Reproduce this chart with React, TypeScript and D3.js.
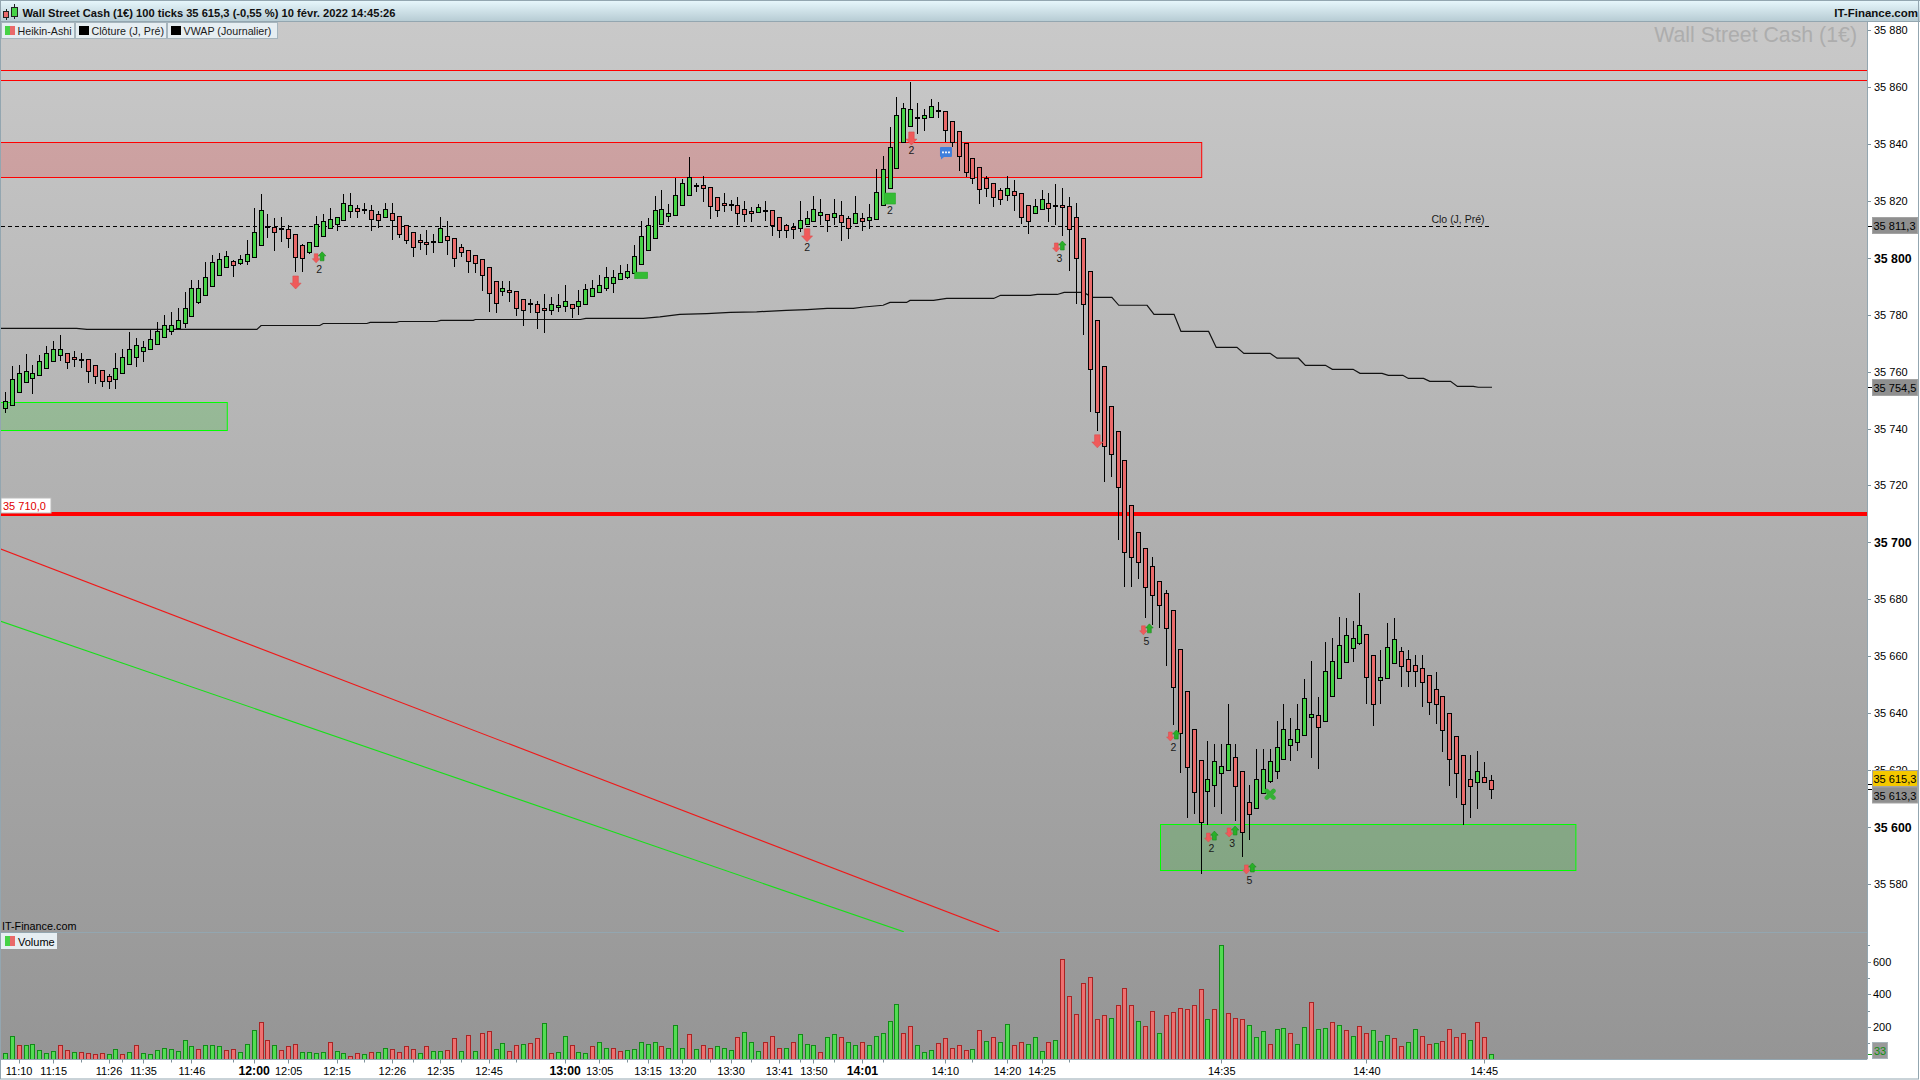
import { useEffect, useRef } from 'react'
import * as d3 from 'd3'

const W = 1920, H = 1080
const PLOT = { left: 1, right: 1867, top: 22, sep: 932, bottom: 1059.5 }
const FONT = '"Liberation Sans", Arial, sans-serif'

const opens = [
  35747.1,35748.1,35752.7,35756.2,35757.8,35758.7,35761.1,35763.6,35766,35766.7,
  35765,35764.6,35764.3,35762.2,35760.4,35758.3,35757.3,35759.4,35762.5,35765.3,
  35767.1,35767.8,35769.6,35772,35774.1,35775.2,35776.9,35779.4,35784.3,35786.8,
  35789.9,35794.1,35796.6,35798.7,35798,35798.7,35800.1,35804.3,35810.7,35810.7,
  35810,35810,35808.2,35804.3,35801.9,35804,35807.8,35810.3,35811.7,35813.1,
  35816.3,35817.3,35816.6,35816.6,35815.2,35814.2,35815.6,35814.5,35811.4,35808.9,
  35806.4,35805.7,35805.6,35805.4,35807.8,35807.1,35803.6,35802.6,35800.8,35799.4,
  35796.6,35792,35788.2,35788.5,35788.2,35785.4,35783.6,35783.6,35782.2,35781.8,
  35782.6,35782.9,35783.6,35782.9,35783.6,35786.4,35787.8,35789.2,35791,35792.4,
  35793.4,35794.5,35797.7,35802.6,35807.1,35811.7,35814.5,35814.9,35818.4,35822.2,
  35825.3,35825.4,35824.7,35821.5,35819.1,35818.6,35818.4,35817,35816.3,35815.9,
  35816.5,35816.6,35814.2,35811.4,35810.7,35810.3,35811.7,35812.8,35814.9,35815.2,
  35814.2,35814.9,35813.8,35812.1,35813.8,35813.1,35813.5,35818.4,35824.6,35831.6,
  35840.8,35846.4,35849.1,35849.2,35849.5,35851.4,35851.4,35848.2,35844.4,35840.2,
  35835.2,35831.7,35827.9,35826.1,35823.7,35822.2,35823.3,35822.6,35818.4,35815.6,
  35817,35819.1,35818,35818.4,35818,35814.2,35806.8,35795.2,35778,35761.8,
  35747.8,35739.3,35729.1,35713,35703.8,35698.2,35691.6,35686.3,35682.1,35676.1,
  35662.4,35647.7,35634.3,35623.4,35612.5,35614.7,35618.9,35619.9,35624.5,35619.6,
  35608.7,35606.6,35611.8,35616.1,35619.6,35623.8,35629,35629.8,35632.2,35638.5,
  35639.2,35637.1,35645.9,35652.2,35657.9,35662.8,35664.5,35667.7,35660.3,35651.5,
  35652.2,35657.5,35661.7,35658.9,35656.8,35655.8,35653.3,35648.4,35645.9,35640,
  35631.9,35625.2,35616.8,35615.7,35617.5,35616.4,
]
const closes = [
  35749.6,35757.3,35759.4,35760.1,35759.4,35763.6,35766.4,35768.1,35767.8,35763.2,
  35764.3,35763.9,35760.1,35758.4,35756.6,35756.6,35761.1,35765.3,35768.1,35769.2,
  35768.5,35771.3,35774.1,35776.2,35776.2,35778.3,35782.2,35789.2,35789.2,35793.4,
  35798.4,35799.4,35800.5,35797.3,35799.4,35801.2,35808.9,35816.6,35810.7,35808.9,
  35810,35806.8,35800.1,35799.8,35805.7,35811.7,35812.8,35813.5,35814.2,35819.4,
  35818.7,35816.3,35816.6,35813.5,35813.1,35817,35813.1,35808.5,35806.4,35803.6,
  35805.4,35805,35805.6,35810.3,35806.4,35799.8,35801.9,35798.7,35798,35794.1,
  35787.5,35784,35789.2,35787.8,35782.2,35781.8,35783.6,35780.8,35781.5,35783.6,
  35783.3,35784.7,35782.2,35784.7,35788.9,35789.2,35790.3,35793.1,35793.4,35794.8,
  35795.5,35800.5,35807.8,35811.4,35816.6,35817,35815.6,35821.9,35826.1,35828.2,
  35825.3,35824.4,35818,35816.6,35818.4,35818.6,35815.6,35815.2,35815.6,35817.7,
  35816.5,35811.6,35809.6,35809.6,35810,35813.1,35813.8,35817,35815.9,35813.1,
  35815.6,35812.4,35810.3,35815.6,35812.8,35814.2,35823,35831,35838.8,35850,
  35852.5,35852.1,35849.1,35850,35853.2,35851.4,35845,35840.8,35835.8,35830.2,
  35827.9,35824.2,35824.4,35821.2,35820.8,35824.4,35821.9,35814.2,35812.8,35818,
  35820.8,35817.3,35818.7,35817.7,35810,35799.8,35783.6,35760.8,35745.7,35733.7,
  35730.9,35719.3,35696.8,35694.7,35693,35684.5,35681.4,35677.9,35669.8,35649.1,
  35632.9,35621,35612.2,35601.7,35616.8,35623.1,35621.3,35629.1,35614.3,35598.1,
  35604.5,35616.8,35620.3,35623.1,35628,35634.3,35630.8,35634.3,35645.2,35639.6,
  35635,35655,35658.2,35663.8,35667.3,35666.3,35670.9,35652.6,35643.1,35652.6,
  35663.1,35665.9,35656.5,35654.7,35654.7,35650.8,35643.8,35643.1,35634,35623.8,
  35618.9,35608,35614.3,35619.6,35615.7,35613.3,
]
const highs = [
  35752.9,35761.9,35762.3,35766.2,35762.3,35765.9,35769,35770.7,35772.7,35766.7,
  35767.2,35766.4,35764.3,35762.2,35760.4,35759,35766.7,35767.8,35773.9,35771.7,
  35770.6,35774.6,35777.4,35779.9,35780.9,35782.2,35787.8,35792.2,35792.2,35798.5,
  35800.9,35801.5,35802.3,35799.2,35800.9,35806.1,35817.3,35822.4,35815.2,35813.8,
  35814.2,35811.4,35808.2,35805,35805.7,35814.6,35815.2,35817.3,35814.2,35822.4,
  35822.6,35818.7,35819.1,35818.6,35816.3,35819.1,35819.1,35814.5,35811.4,35808.9,
  35808.5,35809.7,35808.5,35814.2,35812.9,35807.1,35804.7,35802.6,35800.8,35799.4,
  35796.6,35792,35791.8,35791.8,35788.2,35785.4,35785.5,35784.7,35787.2,35786.1,
  35787.2,35790.4,35783.6,35788.6,35790.7,35792.2,35793.9,35796.6,35795.7,35797.4,
  35797.7,35804.4,35812.9,35813.9,35821.7,35823.8,35818.9,35828.1,35827.5,35835.4,
  35826.3,35828.7,35824.7,35821.5,35822.6,35820.3,35821.2,35819.9,35817.7,35818.9,
  35819.9,35816.6,35814.2,35811.8,35812.1,35819.9,35816.4,35821.7,35820.8,35815.2,
  35820.8,35819.9,35814.6,35821.7,35815.6,35818.9,35831,35835.7,35845.9,35856.4,
  35854.3,35861.7,35854.3,35852.2,35855.9,35854.7,35851.4,35848.2,35844.4,35840.2,
  35835.2,35831.7,35828.7,35826.1,35824.4,35828.7,35827.3,35822.6,35818.4,35820.8,
  35823.9,35822.6,35825.9,35824.5,35821.2,35819.1,35806.8,35795.2,35778,35761.8,
  35747.8,35739.3,35729.1,35713,35703.8,35698.2,35694.7,35686.3,35683.3,35676.1,
  35662.4,35647.7,35634.3,35623.4,35630.1,35629.2,35629.2,35643.2,35629.2,35619.6,
  35614.8,35627.4,35627.4,35627.4,35637.3,35643.2,35638.2,35643.2,35652,35658.3,
  35645.7,35665,35666.3,35673.8,35673.4,35672.4,35682.2,35667.7,35660.3,35662.2,
  35671.7,35673.4,35663.1,35662.2,35660.4,35660.4,35653.3,35654.4,35645.9,35640,
  35631.9,35625.2,35625.2,35626.6,35622.7,35618.2,
]
const lows = [
  35745.3,35748.1,35752.7,35756.2,35752.3,35758.7,35761.1,35763.6,35763.6,35761,
  35761.7,35761.1,35756.1,35755.7,35754.7,35754,35754,35759.4,35762.5,35761.7,
  35763.5,35767.8,35769.6,35772,35772.7,35775.2,35775.2,35779.4,35783.6,35786.8,
  35789.9,35794.1,35796.6,35793.1,35797.3,35797.3,35800.1,35804.3,35807.1,35802.5,
  35805.6,35803.3,35795.1,35795.1,35801.2,35804,35807.8,35810.3,35809.4,35813.1,
  35813.8,35813.8,35815.2,35809.3,35810.3,35814.2,35806.1,35806.8,35804.7,35800.1,
  35802.6,35800.8,35801.5,35805.4,35800.8,35796.6,35800.1,35794.8,35794.8,35788.3,
  35781,35780.7,35786.5,35784.4,35779.5,35776.1,35780.7,35774.9,35773.7,35779.9,
  35781,35781,35778.9,35779.9,35783.6,35786.4,35787.8,35788.3,35787.6,35792.4,
  35792.7,35794.5,35797.7,35802.6,35807.1,35811.7,35812.4,35814.9,35818.4,35822.2,
  35823.2,35819.7,35813.7,35814.3,35816.2,35816.5,35811.4,35812.6,35812.6,35815.9,
  35813,35807.6,35807,35807,35806.7,35809.1,35811.7,35812.8,35811.4,35809.1,
  35811.4,35806,35806.7,35812.1,35809.5,35810.2,35813.5,35818.4,35824.6,35831.6,
  35840.8,35845.8,35843.6,35844.5,35849.5,35849.1,35840.8,35838.8,35830.4,35828.2,
  35825.9,35818.9,35821.4,35817.7,35818.6,35820,35816.5,35811.7,35808.4,35815.6,
  35817,35812.5,35811.5,35807.8,35795.4,35783.6,35772.9,35745.7,35739.2,35721.1,
  35722.8,35700.9,35684.2,35684.2,35687.3,35673.3,35671,35670,35656.7,35635.8,
  35619.1,35603.1,35604.7,35583.6,35600.6,35607.2,35604.7,35619.9,35602.2,35589.4,
  35595.3,35606.6,35611.8,35615.4,35616.8,35623.8,35623.1,35626.6,35632.2,35624.1,
  35620.3,35637.1,35645.9,35652.2,35657.9,35657.9,35663.8,35643.1,35635.4,35643.1,
  35652.2,35657.5,35649.1,35649.1,35649.1,35642.1,35639.5,35636.1,35626.2,35614.3,
  35610.1,35600.6,35603.1,35606.2,35615.7,35609.7,
]
const volumes = [
  37,147,86,86,98,61,37,55,86,61, 43,49,37,31,37,31,67,31,49,86,
  37,31,61,73,67,55,122,80,67,92, 86,80,61,67,43,98,184,233,122,92,
  61,80,98,49,43,37,43,110,55,37, 24,37,31,43,49,73,67,49,80,67,
  37,80,55,55,61,129,55,153,55,165, 177,67,104,55,92,98,104,129,226,37,
  43,147,92,49,37,80,110,73,73,55, 61,67,
  110,98,110,80,73,214,73,159,67,86, 73,80,73,61,141,171,110,55,110,147,
  73,73,110,159,98,86,49,141,159,135, 110,92,110,86,147,165,239,343,165,208,
  92,43,61,104,129,73,86,61,67,184, 116,135,110,220,86,110,98,135,55,110,
  122,618,392,282,471,508,251,275,257,337, 441,337,239,208,300,165,275,294,318,312,
  337,435,251,312,704,288,257,251,214,141, 177,98,190,
  196,165,98,202,355,190,196,233,214,184, 147,208,165,184,116,153,129,80,110,190,
  147,98,104,116,190,141,165,122,233,141, 33,
]
const volumeSides = (
  'GGRGGGGGRR' + 'GRRRRGGRGR' + 'GGGGGGGGRG' + 'GGRRGGGRRG' + 'RRRGGGGRGG' +
  'RRGRGGRRRR' + 'GRGGRRGRGR' + 'RGGRRGRRGR' + 'GGRGGRGGRR' + 'GG' +
  'GGGRGGGRGR' + 'RGGGRGGGRR' + 'RGRGGGRGGR' + 'GGRGGGGGRR' + 'GGGRRRRRGR' +
  'GRGGRRGGGR' + 'GRRRRRRRGR' + 'RRGRRGRRRR' + 'RRGRGRRRGG' + 'GRG' +
  'GRGGRGGRGR' + 'GRRGGGRRGG' + 'RRGRRRRGRR' + 'G'
).split('')

// VWAP break points: candle index, price
const vwapIdx = [
  -1,10.3,11.8,36.4,37,45.5,46,52.3,52.8,56.6,57,62.4,63,67.7,68,83.2,84,92.3,94.7,97.6,101.5,104.9,108.7,113,116,
  118.9,122.7,124.2,127,128,130.4,130.9,134.3,136.2,143,144,148.3,149.3,152.2,153.2,156,157.3,160.1,161.1,165.2,
  166.2,169.1,170.1,174.1,175.2,178.2,179.2,183,184,187.1,188.1,191,192,195,196,199.2,200.1,202.2,203,205.2,206.1,
  209.1,210.1,212.4,213.1,215.1,
]
const vwapVal = [
  35775.2,35775.2,35774.8,35774.8,35776.2,35776.2,35776.9,35776.9,35777.3,35777.3,35777.6,35777.6,35778,35778,35778.3,
  35778.3,35778.7,35778.7,35779.2,35780.1,35780.4,35780.8,35781,35781.5,35781.8,35782.2,35782.2,35782.7,35783.3,
  35784.3,35784.3,35785,35785,35785.7,35785.7,35786.8,35786.8,35787.1,35787.1,35787.8,35787.8,35786.1,35786.1,35783.3,
  35783.3,35780.1,35780.1,35774.1,35774.1,35768.5,35768.5,35766.4,35766.4,35764.7,35764.7,35762.2,35762.2,35760.8,
  35760.8,35759.4,35759.4,35758.7,35758.7,35757.6,35757.6,35756.6,35756.6,35754.8,35754.8,35754.5,35754.5,
]

const priceTicks = [35880,35860,35840,35820,35800,35780,35760,35740,35720,35700,35680,35660,35640,35620,35600,35580]
const boldPrices = [35800,35700,35600]
const volTicks = [600,400,200]
const volMinorTicks = [700,500,300,100]
const timeLabels = ['11:10','11:15','11:26','11:35','11:46','12:00','12:05','12:15','12:26','12:35','12:45','13:00','13:05',
  '13:15','13:20','13:30','13:41','13:50','14:01','14:10','14:20','14:25','14:35','14:40','14:45']
const timeIdx = [2,7,15,20,27,36,41,48,56,63,70,81,86,93,98,105,112,117,124,136,145,150,176,197,214]
const minorTimeIdx = [11,17,24,33,52,59,66,74,90,102,108,115,120,127,140,154]

// level lines and zones, in price
const resistLines = [35865.8, 35862.3]
const prevClose = 35811.3
const levelLine = 35710
const redZone = { from: -1, to: 173.1, hi: 35840.6, lo: 35828.3 }
const greenZones = [
  { from: -1, to: 32.1, hi: 35749.2, lo: 35739.4 },
  { from: 167.1, to: 227.2, hi: 35601, lo: 35584.9 },
]
const trendLines = [
  { color: '#f01818', from: [-0.77, 35697.8], to: [143.8, 35563.2] },
  { color: '#18e018', from: [-0.77, 35672.4], to: [130, 35563.2] },
]

// indicator markers
const bigDownArrows = [[42, 35791.3], [116, 35807.9, '2'], [131.1, 35841.9, '2'], [158, 35735.5]] as [number, number, string?][]
const arrowPairs = [[45.4, 35799.8, '2'], [152.5, 35803.6, '3'], [165.1, 35669.1, '5'], [169, 35631.8, '2'],
  [174.5, 35596.3, '2'], [177.5, 35598.1, '3'], [180, 35585.1, '5']] as [number, number, string][]
const greenBlocks = [[92, 35793.8, 13, 6.5], [128, 35820.8, 11, 11, '2']] as [number, number, number, number, string?][]

const arrowPath = (w: number, h: number) => {
  const s = w * 0.25, t = h * 0.45
  return `M${-s},${-h / 2}H${s}V${h / 2 - t}H${w / 2}L0,${h / 2}L${-w / 2},${h / 2 - t}H${-s}Z`
}

export default function App() {
  const svgRef = useRef<SVGSVGElement>(null)

  useEffect(() => {
    const svg = d3.select(svgRef.current!)
    svg.selectAll('*').remove()

    const x = d3.scaleLinear().domain([0, 215]).range([5.33, 1491.3])
    const y = d3.scaleLinear().domain([35580, 35880]).range([884, 30])
    const yVol = d3.scaleLinear().domain([0, 600]).range([PLOT.bottom, 961.7])
    const cx = (i: number) => Math.floor(x(i)) + 0.5
    const py = (v: number) => Math.round(y(v)) + 0.5

    const defs = svg.append('defs')
    const bg = defs.append('linearGradient').attr('id', 'bg').attr('x1', 0).attr('x2', 0).attr('y1', 0).attr('y2', 1)
    bg.append('stop').attr('offset', 0).attr('stop-color', '#c9c9c9')
    bg.append('stop').attr('offset', 1).attr('stop-color', '#959595')
    const head = defs.append('linearGradient').attr('id', 'head').attr('x1', 0).attr('x2', 0).attr('y1', 0).attr('y2', 1)
    head.append('stop').attr('offset', 0).attr('stop-color', '#e8f8fd')
    head.append('stop').attr('offset', 1).attr('stop-color', '#b6cbd3')
    defs.append('clipPath').attr('id', 'plot').append('rect')
      .attr('x', PLOT.left).attr('y', PLOT.top).attr('width', PLOT.right - PLOT.left).attr('height', PLOT.sep - PLOT.top)

    svg.append('rect').attr('width', W).attr('height', H).attr('fill', '#fff')
    svg.append('rect').attr('x', PLOT.left).attr('y', PLOT.top)
      .attr('width', PLOT.right - PLOT.left).attr('height', PLOT.bottom - PLOT.top).attr('fill', 'url(#bg)')

    const txt = (g: any, tx: number, ty: number, s: string, size = 11, fill = '#000', weight = 'normal', anchor = 'start') =>
      g.append('text').attr('x', tx).attr('y', ty).attr('font-family', FONT).attr('font-size', size)
        .attr('font-weight', weight).attr('fill', fill).attr('text-anchor', anchor)
        .attr('dominant-baseline', 'central').text(s)

    const main = svg.append('g').attr('clip-path', 'url(#plot)')
    txt(main, 1857, 35, 'Wall Street Cash (1€)', 21.3, '#adadad', 'normal', 'end')

    // Zones
    main.append('rect').attr('x', x(redZone.from)).attr('y', py(redZone.hi))
      .attr('width', x(redZone.to) - x(redZone.from)).attr('height', py(redZone.lo) - py(redZone.hi))
      .attr('fill', 'rgba(255,0,0,0.17)').attr('stroke', '#ff0000')
    greenZones.forEach(z => {
      main.append('rect').attr('x', Math.floor(x(z.from)) + 0.5).attr('y', py(z.hi))
        .attr('width', x(z.to) - x(z.from)).attr('height', py(z.lo) - py(z.hi))
        .attr('fill', 'rgba(0,200,0,0.17)').attr('stroke', '#00ff00')
    })

    // Levels
    resistLines.forEach(v => {
      main.append('line').attr('x1', PLOT.left).attr('x2', PLOT.right).attr('y1', py(v)).attr('y2', py(v))
        .attr('stroke', '#ff0000')
    })
    main.append('line').attr('x1', PLOT.left).attr('x2', x(215)).attr('y1', py(prevClose)).attr('y2', py(prevClose))
      .attr('stroke', '#000').attr('stroke-dasharray', '4 3')
    txt(main, 1458, py(prevClose) - 8, 'Clo (J, Pré)', 10.5, '#1a1a1a', 'normal', 'middle')
    main.append('line').attr('x1', PLOT.left).attr('x2', PLOT.right).attr('y1', y(levelLine)).attr('y2', y(levelLine))
      .attr('stroke', '#ff0000').attr('stroke-width', 4)

    // Trend lines
    trendLines.forEach(t => {
      main.append('line').attr('x1', x(t.from[0])).attr('y1', y(t.from[1])).attr('x2', x(t.to[0])).attr('y2', y(t.to[1]))
        .attr('stroke', t.color).attr('stroke-width', 1.1)
    })

    // VWAP
    const vwapLine = d3.line<number>().x((_, i) => x(vwapIdx[i])).y(v => y(v))
    main.append('path').datum(vwapVal).attr('fill', 'none').attr('stroke', '#111').attr('stroke-width', 1.2).attr('d', vwapLine)

    // Candles
    const candles = main.append('g').attr('shape-rendering', 'crispEdges')
    opens.forEach((o, i) => {
      const c = closes[i]
      const px = cx(i)
      candles.append('line').attr('x1', px).attr('x2', px).attr('y1', Math.round(y(highs[i]))).attr('y2', Math.round(y(lows[i])))
        .attr('stroke', '#000')
      if (o === c) {
        candles.append('rect').attr('x', px - 2.5).attr('y', Math.round(y(o)) - 1).attr('width', 5).attr('height', 2).attr('fill', '#000')
        return
      }
      const top = py(Math.max(o, c)), bot = py(Math.min(o, c))
      candles.append('rect').attr('x', px - 2).attr('y', top).attr('width', 4).attr('height', Math.max(bot - top, 1))
        .attr('fill', c > o ? '#46d246' : '#e96a6a').attr('stroke', '#000')
    })

    // Markers
    const arrow = (ax: number, ay: number, w: number, h: number, color: string, edge: string, up = false) => {
      main.append('path').attr('d', arrowPath(w, h))
        .attr('transform', `translate(${ax},${ay})${up ? ' rotate(180)' : ''}`)
        .attr('fill', color).attr('stroke', edge).attr('stroke-width', 0.6)
    }
    bigDownArrows.forEach(([i, v, label]) => {
      arrow(x(i), y(v), 11, 13, '#f05a5a', '#d85050')
      if (label) txt(main, x(i), y(v) + 11.5, label, 10.5, '#1a1a1a', 'normal', 'middle')
    })
    arrowPairs.forEach(([i, v, label]) => {
      arrow(x(i) - 3, y(v), 7.5, 9, '#f05a5a', '#d85050')
      arrow(x(i) + 3, y(v) - 2, 7.5, 9, '#28b028', '#1c8c1c', true)
      txt(main, x(i), y(v) + 10.5, label, 10.5, '#1a1a1a', 'normal', 'middle')
    })
    greenBlocks.forEach(([i, v, w, h, label]) => {
      main.append('rect').attr('x', x(i) - w / 2).attr('y', y(v) - h / 2).attr('width', w).attr('height', h)
        .attr('fill', '#34bc34').attr('stroke', '#2aa92a').attr('stroke-width', 0.6)
      if (label) txt(main, x(i), y(v) + 11.5, label, 10.5, '#1a1a1a', 'normal', 'middle')
    })
    const xPos = { x: x(183), y: y(35611.5) }
    ;[[-3.4, -3.4, 3.4, 3.4], [-3.4, 3.4, 3.4, -3.4]].forEach(l => {
      main.append('line').attr('x1', xPos.x + l[0]).attr('y1', xPos.y + l[1]).attr('x2', xPos.x + l[2]).attr('y2', xPos.y + l[3])
        .attr('stroke', '#34b034').attr('stroke-width', 4.4).attr('stroke-linecap', 'round')
    })
    const chat = main.append('g').attr('transform', `translate(${x(136.1)},${y(35836.8)})`)
    chat.append('path').attr('d', 'M-5,-6H5Q6,-6 6,-5V3Q6,4 5,4H-2L-5,6.5V4Q-6,4 -6,3V-5Q-6,-6 -5,-6Z').attr('fill', '#3f7fdc')
    ;[-3, 0, 3].forEach(d => chat.append('rect').attr('x', d - 0.9).attr('y', -1.5).attr('width', 1.8).attr('height', 1.8).attr('fill', '#fff'))

    // Price label
    svg.append('rect').attr('x', 1).attr('y', 498).attr('width', 50).attr('height', 15).attr('fill', '#fff').attr('stroke', '#bcbcbc')
    txt(svg, 3, 505.5, '35 710,0', 11, '#e00000')

    // Volume pane
    svg.append('line').attr('x1', PLOT.left).attr('x2', PLOT.right).attr('y1', PLOT.sep + 0.5).attr('y2', PLOT.sep + 0.5).attr('stroke', '#93a6b0')
    const bars = svg.append('g').attr('shape-rendering', 'crispEdges')
    volumes.forEach((v, i) => {
      const up = volumeSides[i] === 'G'
      const top = Math.round(yVol(v)) + 0.5
      bars.append('rect').attr('x', cx(i) - 2).attr('y', top).attr('width', 4).attr('height', PLOT.bottom - top)
        .attr('fill', up ? '#52dc52' : '#ee7070').attr('stroke', up ? '#128a18' : '#a82424')
    })
    txt(svg, 2, 926, 'IT-Finance.com', 10.8)
    svg.append('rect').attr('x', 1).attr('y', 933).attr('width', 56).attr('height', 16).attr('fill', '#e6eef2')
    svg.append('rect').attr('x', 5).attr('y', 936).attr('width', 5).attr('height', 10).attr('fill', '#46d246')
    svg.append('rect').attr('x', 10).attr('y', 936).attr('width', 5).attr('height', 10).attr('fill', '#e96a6a')
    txt(svg, 18, 942, 'Volume', 11)

    // Right axis
    svg.append('rect').attr('x', PLOT.right).attr('y', PLOT.top).attr('width', W - PLOT.right).attr('height', PLOT.bottom - PLOT.top).attr('fill', '#fff')
    svg.append('line').attr('x1', PLOT.right + 0.5).attr('x2', PLOT.right + 0.5).attr('y1', PLOT.top).attr('y2', PLOT.bottom).attr('stroke', '#93a6b0')
    const fmt = (v: number) => d3.format(',')(v).replace(',', ' ')
    priceTicks.forEach(v => {
      const bold = boldPrices.includes(v)
      svg.append('line').attr('x1', PLOT.right + 1).attr('x2', PLOT.right + 4).attr('y1', py(v)).attr('y2', py(v)).attr('stroke', '#7f929c')
      txt(svg, 1874, py(v) - (bold ? 0 : 1), fmt(v), bold ? 12.3 : 11, '#000', bold ? 'bold' : 'normal')
    })
    const tag = (v: number, s: string, fill: string, ty: number) => {
      svg.append('line').attr('x1', PLOT.right + 1).attr('x2', 1872).attr('y1', py(v)).attr('y2', py(v)).attr('stroke', '#000')
      svg.append('rect').attr('x', 1872.5).attr('y', ty).attr('width', 45).attr('height', 16).attr('fill', fill).attr('stroke', '#a3a3a3')
      txt(svg, 1873.5, ty + 8.5, s, 11)
    }
    tag(35811.3, '35 811,3', '#8f8f8f', 217.5)
    tag(35754.5, '35 754,5', '#8f8f8f', 379.5)
    tag(35613.3, '35 613,3', '#8f8f8f', 787)
    tag(35615.3, '35 615,3', '#f5c800', 770.5)

    volTicks.forEach(v => {
      svg.append('line').attr('x1', PLOT.right + 1).attr('x2', PLOT.right + 4).attr('y1', Math.round(yVol(v)) + 0.5).attr('y2', Math.round(yVol(v)) + 0.5).attr('stroke', '#7f929c')
      txt(svg, 1873, yVol(v), String(v), 11)
    })
    volMinorTicks.forEach(v => {
      svg.append('line').attr('x1', PLOT.right + 1).attr('x2', PLOT.right + 3).attr('y1', Math.round(yVol(v)) + 0.5).attr('y2', Math.round(yVol(v)) + 0.5).attr('stroke', '#7f929c')
    })
    const lastVol = volumes[volumes.length - 1]
    svg.append('line').attr('x1', PLOT.right + 1).attr('x2', 1872).attr('y1', Math.round(yVol(lastVol)) + 0.5).attr('y2', Math.round(yVol(lastVol)) + 0.5).attr('stroke', '#1c9c1c')
    svg.append('rect').attr('x', 1872.5).attr('y', 1042.5).attr('width', 15).attr('height', 16).attr('fill', '#9a9a9a').attr('stroke', '#a8b4ba')
    txt(svg, 1874, 1051, String(lastVol), 11, '#0f8f0f')

    // Time axis
    svg.append('rect').attr('x', 0).attr('y', PLOT.bottom).attr('width', W).attr('height', H - PLOT.bottom).attr('fill', '#fff')
    svg.append('line').attr('x1', PLOT.left).attr('x2', PLOT.right).attr('y1', PLOT.bottom).attr('y2', PLOT.bottom).attr('stroke', '#93a6b0')
    timeIdx.forEach((idx, i) => {
      svg.append('line').attr('x1', cx(idx)).attr('x2', cx(idx)).attr('y1', PLOT.bottom).attr('y2', PLOT.bottom + 4).attr('stroke', '#7f929c')
      const bold = timeLabels[i].endsWith(':00') || timeLabels[i] === '14:01'
      txt(svg, x(idx), 1071, timeLabels[i], bold ? 12.3 : 11, '#000', bold ? 'bold' : 'normal', 'middle')
    })
    minorTimeIdx.forEach(idx => {
      svg.append('line').attr('x1', cx(idx)).attr('x2', cx(idx)).attr('y1', PLOT.bottom).attr('y2', PLOT.bottom + 3).attr('stroke', '#7f929c')
    })

    // Header
    svg.append('rect').attr('x', 0).attr('y', 0).attr('width', W).attr('height', 21.5).attr('fill', 'url(#head)')
    svg.append('line').attr('x1', 0).attr('x2', W).attr('y1', 21.5).attr('y2', 21.5).attr('stroke', '#93a6b0')
    svg.append('line').attr('x1', 0).attr('x2', W).attr('y1', 0.5).attr('y2', 0.5).attr('stroke', '#93a6b0')
    const icon = svg.append('g').attr('shape-rendering', 'crispEdges')
    icon.append('line').attr('x1', 6.5).attr('x2', 6.5).attr('y1', 9).attr('y2', 20).attr('stroke', '#222')
    icon.append('rect').attr('x', 3.5).attr('y', 11.5).attr('width', 5).attr('height', 6).attr('fill', '#e96a6a').attr('stroke', '#222')
    icon.append('line').attr('x1', 14.5).attr('x2', 14.5).attr('y1', 4).attr('y2', 19).attr('stroke', '#222')
    icon.append('rect').attr('x', 11.5).attr('y', 7.5).attr('width', 6).attr('height', 9).attr('fill', '#46d246').attr('stroke', '#222')
    txt(svg, 22.5, 13, 'Wall Street Cash (1€) 100 ticks 35 615,3 (-0,55 %) 10 févr. 2022 14:45:26', 11.15, '#101010', 'bold')
    txt(svg, 1918, 13, 'IT-Finance.com', 11.5, '#101010', 'bold', 'end')

    // Legend buttons
    const legends = [
      { x0: 1, x1: 74, label: 'Heikin-Ashi', sw: ['#46d246', '#e96a6a'] },
      { x0: 75, x1: 166, label: 'Clôture (J, Pré)', sw: ['#000', '#000'] },
      { x0: 167, x1: 277, label: 'VWAP (Journalier)', sw: ['#000', '#000'] },
    ]
    legends.forEach(l => {
      svg.append('rect').attr('x', l.x0 + 0.5).attr('y', 22.5).attr('width', l.x1 - l.x0).attr('height', 16)
        .attr('fill', '#e6eef2').attr('stroke', '#a6b5bd')
      svg.append('rect').attr('x', l.x0 + 4).attr('y', 26).attr('width', 5).attr('height', 9).attr('fill', l.sw[0])
      svg.append('rect').attr('x', l.x0 + 9).attr('y', 26).attr('width', 5).attr('height', 9).attr('fill', l.sw[1])
      txt(svg, l.x0 + 16.5, 31, l.label, 10.7, '#1a1a1a')
    })

    // Frame
    svg.append('line').attr('x1', 0.5).attr('x2', 0.5).attr('y1', 0).attr('y2', 1079).attr('stroke', '#93a6b0')
    svg.append('line').attr('x1', 1918.5).attr('x2', 1918.5).attr('y1', 0).attr('y2', 1079).attr('stroke', '#93a6b0')
    svg.append('line').attr('x1', 0).attr('x2', 1919).attr('y1', 1079).attr('y2', 1079).attr('stroke', '#93a6b0')
  }, [])

  return <svg ref={svgRef} width={W} height={H} viewBox={`0 0 ${W} ${H}`} style={{ position: 'absolute', left: 0, top: 0, display: 'block' }} />
}
